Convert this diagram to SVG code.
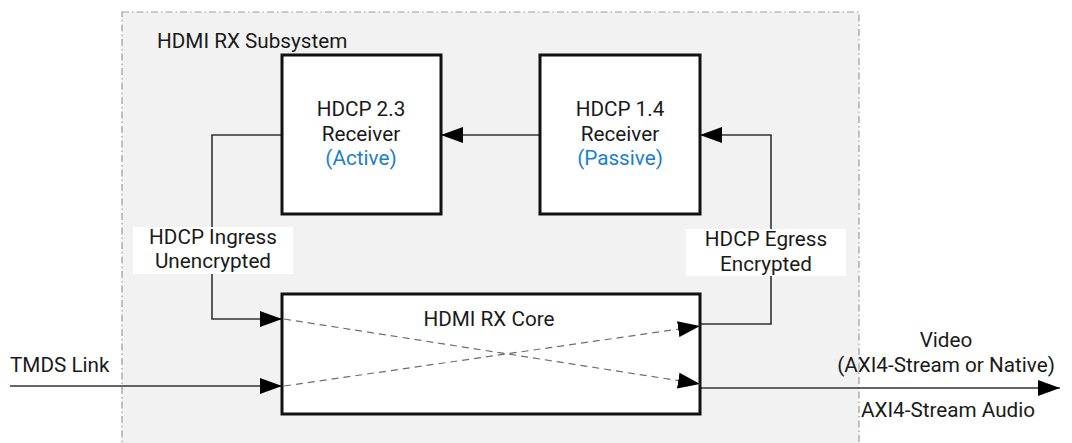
<svg xmlns="http://www.w3.org/2000/svg" width="1072" height="443" viewBox="0 0 1072 443">
  <style>
    .lbl { font-family: Roboto, "Liberation Sans", sans-serif; font-size: 20.7px; fill: #1a1a1a; }
    .mid { text-anchor: middle; }
    .blue { fill: #1a7fd0; }
    .block { fill: #ffffff; stroke: #111111; stroke-width: 3; }
    .wire { fill: none; stroke: #333333; stroke-width: 1.6; }
    .dash { fill: none; stroke: #6e6e6e; stroke-width: 1.2; stroke-dasharray: 7 5; }
  </style>
  <defs>
    <marker id="arrow" markerUnits="userSpaceOnUse" markerWidth="22" markerHeight="16" refX="22" refY="8" orient="auto">
      <path d="M0,0 L22,8 L0,16 z" fill="#000000"/>
    </marker>
  </defs>

  <rect width="1072" height="443" fill="#ffffff"/>

  <!-- subsystem boundary -->
  <g id="subsystem">
    <rect x="122" y="12" width="737" height="440" fill="#f2f2f2" stroke="#9a9a9a" stroke-width="1.2" stroke-dasharray="7 3 1.5 3"/>
    <text class="lbl" x="157" y="48">HDMI RX Subsystem</text>
  </g>

  <!-- connectors -->
  <g id="connectors">
    <path class="wire" d="M540,135 L441,135" marker-end="url(#arrow)"/>
    <path class="wire" d="M282,135 L212,135 L212,319 L282,319" marker-end="url(#arrow)"/>
    <path class="wire" d="M700,324 L771,324 L771,135 L700,135" marker-end="url(#arrow)"/>
    <path class="wire" d="M10,386 L282,386" marker-end="url(#arrow)"/>
    <path class="wire" d="M700,388 L1060,388" marker-end="url(#arrow)"/>
  </g>

  <g id="hdcp23">
    <rect class="block" x="282" y="55" width="159" height="159"/>
    <text class="lbl mid" x="361" y="116">HDCP 2.3</text>
    <text class="lbl mid" x="361" y="141">Receiver</text>
    <text class="lbl mid blue" x="361" y="165">(Active)</text>
  </g>

  <g id="hdcp14">
    <rect class="block" x="540" y="55" width="160" height="159"/>
    <text class="lbl mid" x="620" y="116">HDCP 1.4</text>
    <text class="lbl mid" x="620" y="141">Receiver</text>
    <text class="lbl mid blue" x="620" y="165">(Passive)</text>
  </g>

  <g id="core">
    <rect class="block" x="282" y="294" width="418" height="120"/>
    <text class="lbl mid" x="489" y="326">HDMI RX Core</text>
    <path class="dash" d="M284,319 L700,384" marker-end="url(#arrow)"/>
    <path class="dash" d="M284,386 L700,326" marker-end="url(#arrow)"/>
  </g>

  <g id="ingress-label">
    <rect x="133" y="227" width="160" height="47" fill="#ffffff"/>
    <text class="lbl mid" x="213" y="244">HDCP Ingress</text>
    <text class="lbl mid" x="213" y="268">Unencrypted</text>
  </g>

  <g id="egress-label">
    <rect x="686" y="229" width="160" height="47" fill="#ffffff"/>
    <text class="lbl mid" x="766" y="246">HDCP Egress</text>
    <text class="lbl mid" x="766" y="271">Encrypted</text>
  </g>

  <g id="tmds-label">
    <text class="lbl" x="10" y="372">TMDS Link</text>
  </g>

  <g id="output-labels">
    <text class="lbl mid" x="946" y="347">Video</text>
    <text class="lbl mid" x="946" y="372">(AXI4-Stream or Native)</text>
    <text class="lbl mid" x="948" y="417">AXI4-Stream Audio</text>
  </g>
</svg>
